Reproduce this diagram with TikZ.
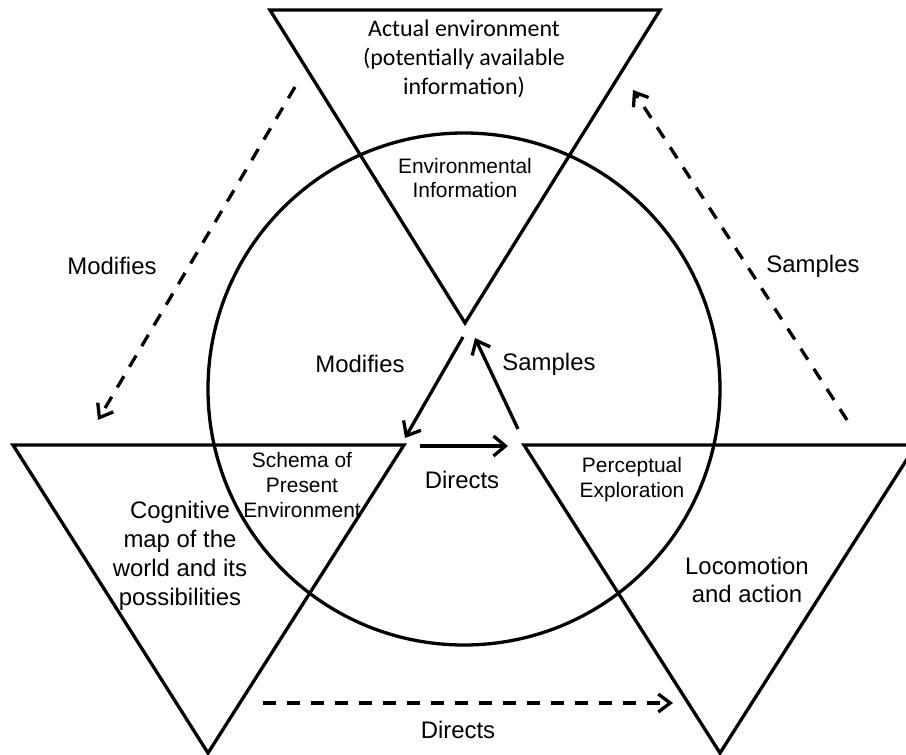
\documentclass[tikz,border=0pt]{standalone}
\usepackage{fontspec}
\setmainfont{Liberation Sans}
\newfontfamily\calfont{Carlito}
\usetikzlibrary{arrows.meta}

\begin{document}
\begin{tikzpicture}[x=1bp,y=-1bp,
  shapeline/.style={line width=3.3bp, line join=miter},
  solidarrow/.style={line width=3.3bp,
    -{Straight Barb[length=12bp,width=20bp,line width=3.3bp]}},
  dashedarrow/.style={line width=3.3bp, dash pattern=on 13bp off 11bp,
    -{Straight Barb[length=12bp,width=18bp,line width=3.3bp]}},
  biglabel/.style={align=center, inner sep=0pt,
    font=\fontsize{24}{29}\selectfont},
  smalllabel/.style={align=center, inner sep=0pt,
    font=\fontsize{21}{25}\selectfont},
]
\useasboundingbox (0,0) rectangle (906,755);
\clip (0,0) rectangle (906,755);

% corners of the three inverted triangles
\coordinate (tA) at (270,10);  \coordinate (tB) at (660,10);  \coordinate (tC) at (465,323);
\coordinate (lA) at (13,445);  \coordinate (lB) at (404,445); \coordinate (lC) at (208,753);
\coordinate (rA) at (524,445); \coordinate (rB) at (916,445); \coordinate (rC) at (720,753);

\draw[shapeline] (tA) -- (tB) -- (tC) -- cycle;
\draw[shapeline] (lA) -- (lB) -- (lC) -- cycle;
\draw[shapeline] (rA) -- (rB) -- (rC) -- cycle;

% the central circle
\coordinate (ctr) at (464,389);
\draw[shapeline] (ctr) circle[radius=256];

% inner cycle of arrows
\coordinate (m1) at (463,337); \coordinate (m2) at (405,438);
\coordinate (d1) at (420,446); \coordinate (d2) at (508,446);
\coordinate (s1) at (518,429); \coordinate (s2) at (475,338);
\draw[solidarrow] (m1) -- (m2);
\draw[solidarrow] (d1) -- (d2);
\draw[solidarrow] (s1) -- (s2);

% outer cycle of dashed arrows
\coordinate (om1) at (295,87);  \coordinate (om2) at (98,420);
\coordinate (od1) at (263,703); \coordinate (od2) at (673,703);
\coordinate (os1) at (847,420); \coordinate (os2) at (633,90);
\draw[dashedarrow] (om1) -- (om2);
\draw[dashedarrow] (od1) -- (od2);
\draw[dashedarrow] (os1) -- (os2);

% texts
\node[biglabel, font=\calfont\fontsize{24}{29}\selectfont] (actual) at (464,59)
  {Actual environment\\(potentially available\\information)};
\node[smalllabel] (envinfo) at (465,178) {Environmental\\Information};
\node[smalllabel] (schema) at (302,485) {Schema of\\Present\\Environment};
\node[smalllabel] (percept) at (632,480) {Perceptual\\Exploration};
\node[biglabel] (cogmap) at (180,556) {Cognitive\\map of the\\world and its\\possibilities};
\node[biglabel] (loco) at (747,580) {Locomotion\\and action};

\node[biglabel] (modin) at (360,364) {Modifies};
\node[biglabel] (samin) at (549,364) {Samples};
\node[biglabel] (dirin) at (462,480) {Directs};
\node[biglabel] (modout) at (112,266) {Modifies};
\node[biglabel] (samout) at (813,266) {Samples};
\node[biglabel] (dirout) at (458,730) {Directs};
\end{tikzpicture}
\end{document}
